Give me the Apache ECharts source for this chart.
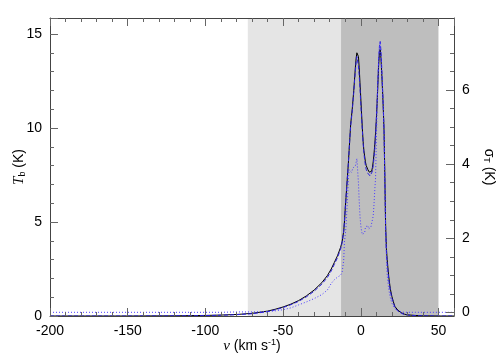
<!DOCTYPE html>
<html>
<head>
<meta charset="utf-8">
<script src="https://cdn.jsdelivr.net/npm/echarts@6/dist/echarts.min.js"></script>
<style>html,body{margin:0;padding:0;background:#fff}#main{width:504px;height:360px}</style>
</head>
<body>
<div id="main"></div>
<script>
// velocity channels (km/s)
var vel = [
  -200, -150, -120, -100, -90, -80, -70, -60, -55, -50,
  -45, -40, -35, -30, -25, -21.5, -19, -17, -15, -13,
  -12, -11, -10.5, -10, -9.5, -9, -8.5, -8, -7.5, -7,
  -6.5, -6, -5.5, -5, -4.5, -4, -3.5, -3, -2.5, -2,
  -1.5, -1, -0.5, 0, 0.5, 1, 1.5, 2, 2.5, 3,
  3.5, 4, 4.5, 5, 5.5, 6, 6.5, 7, 7.5, 8,
  8.5, 9, 9.5, 10, 10.5, 11, 11.5, 12, 12.5, 13,
  13.5, 14, 14.5, 15, 15.5, 16, 16.5, 17, 18, 19,
  20, 21, 22, 24, 26, 28, 30, 35, 40, 50, 60
];
// observed brightness temperature T_b (K), left axis
var tbObs = [
  0, 0, 0.01, 0.03, 0.05, 0.08, 0.14, 0.26, 0.36, 0.48,
  0.63, 0.82, 1.07, 1.38, 1.78, 2.15, 2.5, 2.85, 3.2, 3.65,
  3.95, 4.5, 5.0, 5.7, 6.3, 6.9, 7.5, 8.1, 8.8, 9.5,
  10.2, 10.6, 11.0, 11.5, 12.0, 12.6, 13.2, 13.7, 14.0, 14.1,
  13.8, 13.2, 12.4, 11.6, 10.8, 10.0, 9.3, 8.8, 8.5, 8.2,
  8.0, 7.9, 7.8, 7.7, 7.65, 7.6, 7.6, 7.7, 7.9, 8.2,
  8.6, 9.1, 9.7, 10.4, 11.3, 12.3, 13.3, 14.0, 14.2, 13.7,
  12.9, 12.0, 11.0, 9.8, 7.4, 4.8, 3.6, 3.0, 2.1, 1.45,
  1.05, 0.75, 0.5, 0.3, 0.18, 0.1, 0.06, 0.03, 0.01, 0, 0
];
// model fit T_b (K), left axis
var tbFit = [
  0, 0, 0.01, 0.02, 0.04, 0.07, 0.12, 0.23, 0.33, 0.45,
  0.6, 0.78, 1.02, 1.32, 1.7, 2.05, 2.4, 2.75, 3.1, 3.55,
  3.9, 4.5, 5.0, 5.7, 6.3, 6.9, 7.5, 8.1, 8.8, 9.5,
  10.1, 10.5, 10.9, 11.4, 11.9, 12.5, 13.0, 13.5, 13.8, 13.7,
  13.3, 12.8, 12.1, 11.3, 10.6, 9.9, 9.2, 8.7, 8.3, 8.0,
  7.8, 7.7, 7.6, 7.55, 7.5, 7.45, 7.45, 7.5, 7.7, 8.0,
  8.4, 8.9, 9.6, 10.4, 11.4, 12.5, 13.6, 14.3, 14.6, 14.1,
  13.2, 12.2, 11.1, 9.8, 7.2, 4.6, 3.4, 2.8, 1.95, 1.35,
  0.95, 0.7, 0.45, 0.25, 0.15, 0.08, 0.05, 0.02, 0.01, 0, 0
];
// sigma_T (K), right axis
var sigmaT = [
  0, 0, 0, 0, 0, 0.01, 0.01, 0.02, 0.04, 0.07,
  0.12, 0.2, 0.28, 0.37, 0.48, 0.6, 0.78, 0.88, 0.95, 1.0,
  1.08, 1.4, 1.9, 2.1, 2.3, 2.7, 3.1, 3.55, 3.85, 3.85,
  3.8, 3.78, 3.8, 3.9, 3.85, 3.9, 3.95, 4.05, 4.15, 4.1,
  3.5, 3.0, 2.6, 2.35, 2.2, 2.1, 2.05, 2.05, 2.15, 2.3,
  2.25, 2.35, 2.35, 2.25, 2.2, 2.3, 2.3, 2.35, 2.5, 2.6,
  2.9, 3.3, 3.6, 4.6, 5.5, 6.2, 6.8, 7.2, 7.3, 6.9,
  6.4, 6.0, 5.5, 4.8, 3.6, 2.3, 1.5, 1.0, 0.62, 0.4,
  0.25, 0.16, 0.1, 0.04, 0.01, 0, 0, 0, 0, 0, 0
];
// right axis tick values
var sigmaTicks = [0, 2, 4, 6];
var sigmaMinor = [0.5, 1, 1.5, 2.5, 3, 3.5, 4.5, 5, 5.5, 6.5, 7, 7.5];
// shaded velocity windows
var lightBand = [-72.7, -12.7];
var darkBand = [-12.7, 50];

function pairs(ys) {
  var out = [];
  for (var i = 0; i < vel.length; i++) out.push([vel[i], ys[i]]);
  return out;
}

var chart = echarts.init(document.getElementById('main'));
var txt = {color: '#000', fontFamily: 'Liberation Sans', fontSize: 14};
var axLine = {show: true, onZero: false, lineStyle: {color: '#444', width: 1}};
var tick = {show: true, inside: true, length: 8, lineStyle: {color: '#666'}};
var minor = function (n) { return {show: true, splitNumber: n, length: 4, lineStyle: {color: '#666'}}; };

var option = {
  animation: false,
  grid: {left: 50, right: 50, top: 18, bottom: 44, containLabel: false, outerBoundsMode: 'none'},
  xAxis: [{
    type: 'value', min: -200, max: 60, interval: 50, z: 5,
    axisLine: axLine, axisTick: tick, minorTick: minor(5),
    splitLine: {show: false},
    axisLabel: Object.assign({showMaxLabel: false, margin: 8}, txt),
    name: '{i|v} (km s{sup|-1})', nameLocation: 'middle', nameGap: 22, nameMoveOverlap: false,
    nameTextStyle: {color: '#000', fontFamily: 'Liberation Sans', fontSize: 14,
      rich: {i: {fontFamily: 'Liberation Serif', fontStyle: 'italic', fontSize: 15},
             sup: {fontSize: 9, verticalAlign: 'top', padding: [0, 0, 7, 0]}}}
  }, {
    type: 'value', position: 'top', min: -200, max: 60, interval: 50, z: 5,
    axisLine: axLine, axisTick: tick, minorTick: minor(5),
    splitLine: {show: false}, axisLabel: {show: false}
  }],
  yAxis: [{
    type: 'value', position: 'left', min: 0, max: 15.85, interval: 5, z: 5,
    axisLine: axLine, axisTick: tick, minorTick: minor(5),
    splitLine: {show: false},
    axisLabel: Object.assign({showMaxLabel: false, margin: 8}, txt),
    name: '{i|T}{sub|b} (K)', nameLocation: 'middle', nameGap: 23, nameMoveOverlap: false,
    nameTextStyle: {color: '#000', fontFamily: 'Liberation Sans', fontSize: 14,
      rich: {i: {fontFamily: 'Liberation Serif', fontStyle: 'italic', fontSize: 15},
             sub: {fontSize: 9, verticalAlign: 'bottom'}}}
  }, {
    type: 'value', position: 'right', min: -0.1, max: 7.95, z: 5,
    axisLine: axLine,
    axisTick: Object.assign({customValues: sigmaTicks}, tick),
    minorTick: {show: false},
    splitLine: {show: false},
    axisLabel: Object.assign({customValues: sigmaTicks, margin: 8}, txt),
    name: '\u03c3{sub|T} (K)', nameLocation: 'middle', nameGap: 28, nameRotate: -90, nameMoveOverlap: false,
    nameTextStyle: {color: '#000', fontFamily: 'Liberation Sans', fontSize: 14,
      rich: {sub: {fontSize: 9, verticalAlign: 'bottom'}}}
  }, {
    type: 'value', position: 'right', min: -0.1, max: 7.95, z: 5,
    axisLine: {show: false, onZero: false},
    axisTick: {show: true, inside: true, length: 4, customValues: sigmaMinor, lineStyle: {color: '#666'}},
    minorTick: {show: false},
    splitLine: {show: false},
    axisLabel: {show: false}
  }],
  series: [
    {
      type: 'line', data: [], z: 1, silent: true,
      markArea: {
        silent: true,
        data: [
          [{xAxis: lightBand[0], itemStyle: {color: '#e5e5e5'}}, {xAxis: lightBand[1]}],
          [{xAxis: darkBand[0], itemStyle: {color: '#bebebe'}}, {xAxis: darkBand[1]}]
        ]
      }
    },
    {
      name: 'T_b', type: 'line', data: pairs(tbObs), showSymbol: false, z: 3,
      lineStyle: {color: '#000', width: 1}
    },
    {
      name: 'fit', type: 'line', data: pairs(tbFit), showSymbol: false, z: 4,
      lineStyle: {color: '#2a1fe0', width: 1, type: [4, 2]}
    },
    {
      name: 'sigma', type: 'line', yAxisIndex: 1, data: pairs(sigmaT), showSymbol: false, z: 4,
      lineStyle: {color: '#4a3cff', width: 1, type: [1, 2]}
    }
  ]
};

option && chart.setOption(option);
</script>
</body>
</html>
